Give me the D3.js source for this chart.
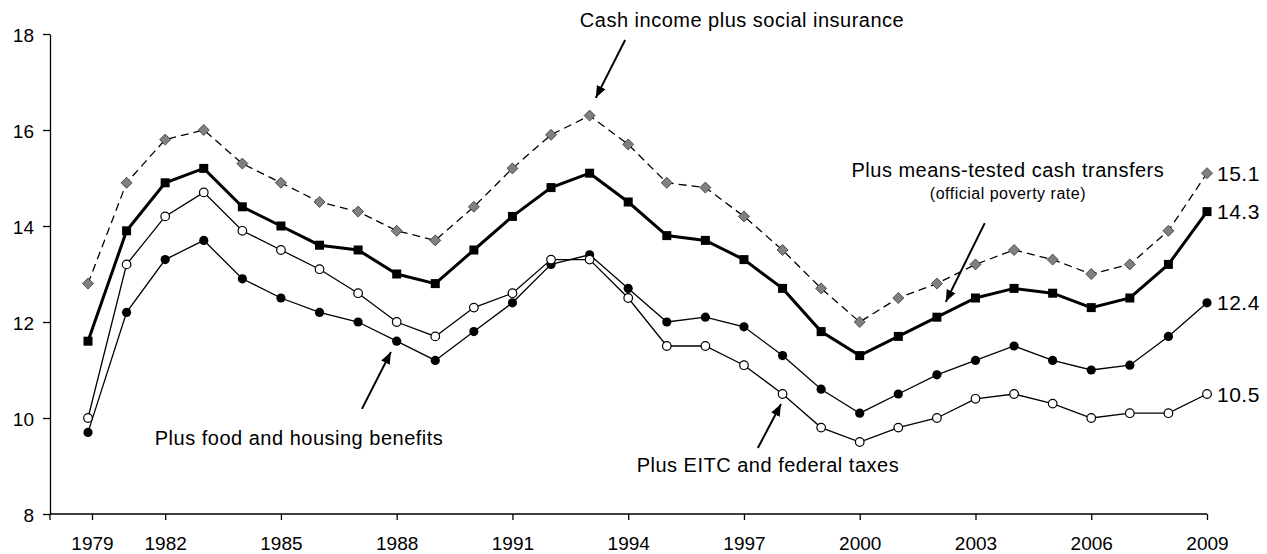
<!DOCTYPE html>
<html>
<head>
<meta charset="utf-8">
<script src="https://cdn.jsdelivr.net/npm/d3@7"></script>
<style>
  body { margin: 0; background: #fff; }
  svg { display: block; font-family: "Liberation Sans", Arial, sans-serif; }
  .tick text { font-size: 19px; fill: #000; }
  .ann { font-size: 20px; letter-spacing: 0.5px; fill: #000; }
  .ann-small { font-size: 16px; letter-spacing: 0.5px; fill: #000; }
  .endlab { font-size: 21px; letter-spacing: 0.5px; fill: #000; }
</style>
</head>
<body>
<svg id="chart" width="1267" height="554"></svg>
<script>
// years on the axis (1980 is not in the series)
var years = [1979, 1981, 1982, 1983, 1984, 1985, 1986, 1987, 1988, 1989,
             1990, 1991, 1992, 1993, 1994, 1995, 1996, 1997, 1998, 1999,
             2000, 2001, 2002, 2003, 2004, 2005, 2006, 2007, 2008, 2009];

var cashSocial = [12.8, 14.9, 15.8, 16.0, 15.3, 14.9, 14.5, 14.3, 13.9, 13.7,
                  14.4, 15.2, 15.9, 16.3, 15.7, 14.9, 14.8, 14.2, 13.5, 12.7,
                  12.0, 12.5, 12.8, 13.2, 13.5, 13.3, 13.0, 13.2, 13.9, 15.1];

var meansTested = [11.6, 13.9, 14.9, 15.2, 14.4, 14.0, 13.6, 13.5, 13.0, 12.8,
                   13.5, 14.2, 14.8, 15.1, 14.5, 13.8, 13.7, 13.3, 12.7, 11.8,
                   11.3, 11.7, 12.1, 12.5, 12.7, 12.6, 12.3, 12.5, 13.2, 14.3];

var foodHousing = [9.7, 12.2, 13.3, 13.7, 12.9, 12.5, 12.2, 12.0, 11.6, 11.2,
                   11.8, 12.4, 13.2, 13.4, 12.7, 12.0, 12.1, 11.9, 11.3, 10.6,
                   10.1, 10.5, 10.9, 11.2, 11.5, 11.2, 11.0, 11.1, 11.7, 12.4];

var eitcTaxes = [10.0, 13.2, 14.2, 14.7, 13.9, 13.5, 13.1, 12.6, 12.0, 11.7,
                 12.3, 12.6, 13.3, 13.3, 12.5, 11.5, 11.5, 11.1, 10.5, 9.8,
                 9.5, 9.8, 10.0, 10.4, 10.5, 10.3, 10.0, 10.1, 10.1, 10.5];

var xTickYears = [1979, 1982, 1985, 1988, 1991, 1994, 1997, 2000, 2003, 2006, 2009];
var yTickValues = [8, 10, 12, 14, 16, 18];

var svg = d3.select("#chart");

var axisLeftX = 50;
var plotTop = 34, plotBottom = 514;

var x = d3.scalePoint()
    .domain(years)
    .range([88, 1207]);

// fractional position along the categories, for the annotations
var xi = d3.scaleLinear()
    .domain([0, years.length - 1])
    .range(x.range());

var y = d3.scaleLinear()
    .domain([8, 18])
    .range([plotBottom, plotTop]);

// y axis
var yAxis = svg.append("g")
    .attr("transform", "translate(" + axisLeftX + ",0)")
    .call(d3.axisLeft(y).tickValues(yTickValues).tickSize(7).tickSizeOuter(0));
yAxis.select(".domain").attr("stroke", "#000").attr("stroke-width", 1.3);
yAxis.selectAll(".tick line").attr("stroke", "#000").attr("stroke-width", 1.3);
yAxis.selectAll(".tick text").attr("x", -16).attr("dy", "0.38em");

// x axis
var xAxis = svg.append("g")
    .attr("transform", "translate(0," + plotBottom + ")")
    .call(d3.axisBottom(x).tickValues(xTickYears).tickSize(6));
xAxis.select(".domain").remove();
xAxis.selectAll(".tick line").attr("stroke", "#000").attr("stroke-width", 1.3);
xAxis.selectAll(".tick text").attr("y", 23);
// first label sits a little right of its point, as in the source
xAxis.selectAll(".tick").filter(function(d) { return d === 1979; })
    .attr("transform", "translate(" + (x(1979) + 4.5) + ",0)");
xAxis.append("line")
    .attr("x1", axisLeftX).attr("x2", x(years[years.length - 1]))
    .attr("y1", 0).attr("y2", 0)
    .attr("stroke", "#000").attr("stroke-width", 1.3);
xAxis.append("line")
    .attr("x1", axisLeftX).attr("x2", axisLeftX)
    .attr("y1", 0).attr("y2", 6)
    .attr("stroke", "#000").attr("stroke-width", 1.3);

var series = [
    { name: "cash", values: cashSocial, width: 1.3, dash: "8,5", marker: "diamond" },
    { name: "means", values: meansTested, width: 3, dash: null, marker: "square" },
    { name: "food", values: foodHousing, width: 1.3, dash: null, marker: "dot" },
    { name: "eitc", values: eitcTaxes, width: 1.3, dash: null, marker: "open" }
];

var line = d3.line()
    .x(function(d, i) { return x(years[i]); })
    .y(function(d) { return y(d); });

series.forEach(function(s) {
    svg.append("path")
        .datum(s.values)
        .attr("fill", "none")
        .attr("stroke", "#000")
        .attr("stroke-width", s.width)
        .attr("stroke-dasharray", s.dash)
        .attr("d", line);
});

series.forEach(function(s) {
    var g = svg.append("g").attr("class", "marks-" + s.name);
    var pts = g.selectAll("*")
        .data(s.values)
        .enter();
    if (s.marker === "diamond") {
        pts.append("path")
            .attr("d", "M0,-5.5L5.5,0L0,5.5L-5.5,0Z")
            .attr("transform", function(d, i) { return "translate(" + x(years[i]) + "," + y(d) + ")"; })
            .attr("fill", "#808080")
            .attr("stroke", "#333")
            .attr("stroke-width", 0.8);
    } else if (s.marker === "square") {
        pts.append("rect")
            .attr("x", function(d, i) { return x(years[i]) - 4.5; })
            .attr("y", function(d) { return y(d) - 4.5; })
            .attr("width", 9)
            .attr("height", 9)
            .attr("fill", "#000");
    } else if (s.marker === "dot") {
        pts.append("circle")
            .attr("cx", function(d, i) { return x(years[i]); })
            .attr("cy", function(d) { return y(d); })
            .attr("r", 4.6)
            .attr("fill", "#000");
    } else {
        pts.append("circle")
            .attr("cx", function(d, i) { return x(years[i]); })
            .attr("cy", function(d) { return y(d); })
            .attr("r", 4.3)
            .attr("fill", "#fff")
            .attr("stroke", "#000")
            .attr("stroke-width", 1.2);
    }
});

// end-of-line values
series.forEach(function(s) {
    var last = s.values[s.values.length - 1];
    svg.append("text")
        .attr("class", "endlab")
        .attr("x", x(years[years.length - 1]) + 10)
        .attr("y", y(last))
        .attr("dy", "0.36em")
        .text(last.toFixed(1));
});

// annotations, placed in category index / value units
svg.append("defs").append("marker")
    .attr("id", "arrow")
    .attr("viewBox", "0 0 10 10")
    .attr("refX", 10).attr("refY", 5)
    .attr("markerWidth", 6).attr("markerHeight", 6)
    .attr("markerUnits", "strokeWidth")
    .attr("orient", "auto")
    .append("path")
    .attr("d", "M0,1L10,5L0,9Z")
    .attr("fill", "#000");

var labels = [
    { text: "Cash income plus social insurance", cls: "ann", i: 16.95, v: 18.15 },
    { text: "Plus food and housing benefits", cls: "ann", i: 5.47, v: 9.44 },
    { text: "Plus EITC and federal taxes", cls: "ann", i: 17.62, v: 8.875 },
    { text: "Plus means-tested cash transfers", cls: "ann", i: 23.84, v: 15.02 },
    { text: "(official poverty rate)", cls: "ann-small", i: 23.84, v: 14.56 }
];

var arrows = [
    { from: [13.92, 17.875], to: [13.16, 16.67] },
    { from: [7.10, 10.19], to: [7.85, 11.375] },
    { from: [17.36, 9.375], to: [17.96, 10.29] },
    { from: [23.24, 14.06], to: [22.23, 12.42] }
];

labels.forEach(function(l) {
    svg.append("text")
        .attr("class", l.cls)
        .attr("x", xi(l.i))
        .attr("y", y(l.v))
        .attr("text-anchor", "middle")
        .text(l.text);
});

arrows.forEach(function(a) {
    svg.append("line")
        .attr("x1", xi(a.from[0])).attr("y1", y(a.from[1]))
        .attr("x2", xi(a.to[0])).attr("y2", y(a.to[1]))
        .attr("stroke", "#000")
        .attr("stroke-width", 2)
        .attr("marker-end", "url(#arrow)");
});
</script>
</body>
</html>
